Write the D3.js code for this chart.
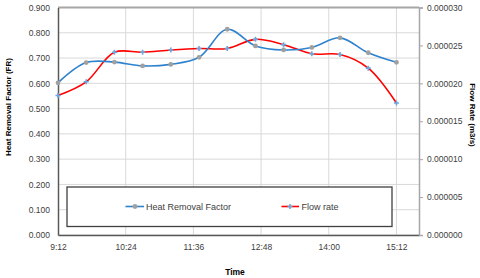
<!DOCTYPE html>
<html>
<head>
<meta charset="utf-8">
<script src="https://cdn.jsdelivr.net/npm/d3@7"></script>
<style>
  body { margin: 0; background: #fff; }
  svg { font-family: "Liberation Sans", Arial, sans-serif; }
  .tick text { fill: #404040; font-size: 8.5px; }
</style>
</head>
<body>
<div id="chart"></div>
<script>
// sample times (hh:mm)
const times = ['9:12', '9:42', '10:12', '10:42', '11:12', '11:42', '12:12', '12:42', '13:12', '13:42', '14:12', '14:42', '15:12'];
const heatRemoval = [0.602, 0.682, 0.684, 0.669, 0.675, 0.703, 0.814, 0.748, 0.732, 0.742, 0.780, 0.721, 0.683];
const flowRate = [0.0000184, 0.0000202, 0.0000241, 0.0000241, 0.0000244, 0.0000246, 0.0000246, 0.0000258, 0.0000251, 0.0000239, 0.0000238, 0.0000220, 0.0000174];
const timeTicks = ['9:12', '10:24', '11:36', '12:48', '14:00', '15:12'];
const leftTicks = [0, 0.1, 0.2, 0.3, 0.4, 0.5, 0.6, 0.7, 0.8, 0.9];
const rightTicks = [0, 0.000005, 0.00001, 0.000015, 0.00002, 0.000025, 0.00003];

const toMin = s => { const p = s.split(':'); return +p[0] * 60 + +p[1]; };
const fmtTime = m => Math.floor(m / 60) + ':' + String(Math.round(m % 60)).padStart(2, '0');

const width = 480, height = 278;
const margin = { top: 7.5, right: 61, bottom: 43, left: 58 };
const w = width - margin.left - margin.right;
const h = height - margin.top - margin.bottom;

const svg = d3.select('#chart').append('svg')
  .attr('width', width)
  .attr('height', height);

const chart = svg.append('g')
  .attr('transform', `translate(${margin.left},${margin.top})`);

const x = d3.scaleLinear().domain([toMin('9:12'), toMin('15:36')]).range([0, w]);
const yL = d3.scaleLinear().domain([0, 0.9]).range([h, 0]);
const yR = d3.scaleLinear().domain([0, 0.00003]).range([h, 0]);

// gridlines
chart.append('g')
  .selectAll('line.hg')
  .data(leftTicks)
  .join('line')
  .attr('x1', 0).attr('x2', w)
  .attr('y1', d => yL(d)).attr('y2', d => yL(d))
  .attr('stroke', '#d9d9d9').attr('stroke-width', 1);
chart.append('g')
  .selectAll('line.vg')
  .data(timeTicks.slice(1))
  .join('line')
  .attr('x1', d => x(toMin(d))).attr('x2', d => x(toMin(d)))
  .attr('y1', 0).attr('y2', h)
  .attr('stroke', '#d9d9d9').attr('stroke-width', 1);

// top border
chart.append('line')
  .attr('x1', 0).attr('x2', w).attr('y1', 0).attr('y2', 0)
  .attr('stroke', '#a6a6a6').attr('stroke-width', 2);

// axes
const xAxis = chart.append('g')
  .attr('transform', `translate(0,${h})`)
  .call(d3.axisBottom(x).tickValues(timeTicks.map(toMin)).tickFormat(fmtTime).tickSize(0).tickPadding(9));
const leftAxis = chart.append('g')
  .call(d3.axisLeft(yL).tickValues(leftTicks).tickFormat(d3.format('.3f')).tickSize(0).tickPadding(8));
const rightAxis = chart.append('g')
  .attr('transform', `translate(${w},0)`)
  .call(d3.axisRight(yR).tickValues(rightTicks).tickFormat(d3.format('.6f')).tickSize(4).tickPadding(4));

xAxis.select('.domain').attr('stroke', '#595959').attr('stroke-width', 1.5);
leftAxis.select('.domain').attr('stroke', '#595959').attr('stroke-width', 1.5);
rightAxis.select('.domain').attr('stroke', '#a6a6a6').attr('stroke-width', 1.5);
rightAxis.selectAll('.tick line').attr('stroke', '#a6a6a6').attr('x2', 4);
[xAxis, leftAxis, rightAxis].forEach(a => a.attr('font-family', null).attr('font-size', null));

// legend box (drawn under the lines, as in the source)
const legendBox = { x: 67, y: 187, w: 325, h: 39.5 };
chart.append('rect')
  .attr('x', legendBox.x - margin.left).attr('y', legendBox.y - margin.top)
  .attr('width', legendBox.w).attr('height', legendBox.h)
  .attr('fill', '#fff').attr('stroke', '#404040').attr('stroke-width', 1.3);

// series lines
const curve = d3.curveCatmullRom.alpha(0.5);
const hrfLine = d3.line().x((d, i) => x(toMin(times[i]))).y(d => yL(d)).curve(curve);
const flowLine = d3.line().x((d, i) => x(toMin(times[i]))).y(d => yR(d)).curve(curve);

chart.append('path').datum(flowRate)
  .attr('d', flowLine).attr('fill', 'none').attr('stroke', '#ff0000').attr('stroke-width', 1.6);
chart.append('path').datum(heatRemoval)
  .attr('d', hrfLine).attr('fill', 'none').attr('stroke', '#2f82cd').attr('stroke-width', 1.6);

function plusMarker(g, cx, cy) {
  g.append('path')
    .attr('d', `M${cx - 2.5},${cy}H${cx + 2.5}M${cx},${cy - 2.5}V${cy + 2.5}`)
    .attr('stroke', '#6aa6df').attr('stroke-width', 1.6);
}

const marks = chart.append('g');
heatRemoval.forEach((v, i) => {
  marks.append('circle').attr('cx', x(toMin(times[i]))).attr('cy', yL(v)).attr('r', 2.4).attr('fill', '#a0a0a0');
});
flowRate.forEach((v, i) => plusMarker(marks, x(toMin(times[i])), yR(v)));

// legend entries
const lg = svg.append('g');
const ly = 206.5;
lg.append('line').attr('x1', 125.5).attr('x2', 144).attr('y1', ly).attr('y2', ly)
  .attr('stroke', '#2f82cd').attr('stroke-width', 1.6);
lg.append('circle').attr('cx', 135).attr('cy', ly).attr('r', 2.4).attr('fill', '#a0a0a0');
lg.append('text').attr('x', 146).attr('y', ly + 3.3).attr('font-size', 9).attr('fill', '#404040')
  .text('Heat Removal Factor');
lg.append('line').attr('x1', 281.5).attr('x2', 299).attr('y1', ly).attr('y2', ly)
  .attr('stroke', '#ff0000').attr('stroke-width', 1.6);
plusMarker(lg, 290, ly);
lg.append('text').attr('x', 301.5).attr('y', ly + 3.3).attr('font-size', 9).attr('fill', '#404040')
  .text('Flow rate');

// axis titles
svg.append('text')
  .attr('x', 235).attr('y', 275)
  .attr('text-anchor', 'middle').attr('font-size', 8.5).attr('font-weight', 'bold').attr('fill', '#000')
  .text('Time');
svg.append('text')
  .attr('transform', 'translate(11,107) rotate(-90)')
  .attr('text-anchor', 'middle').attr('font-size', 8).attr('font-weight', 'bold').attr('fill', '#000')
  .text('Heat Removal Factor (FR)');
svg.append('text')
  .attr('transform', 'translate(470,115) rotate(90)')
  .attr('text-anchor', 'middle').attr('font-size', 8).attr('font-weight', 'bold').attr('fill', '#000')
  .text('Flow Rate (m3/s)');
</script>
</body>
</html>
